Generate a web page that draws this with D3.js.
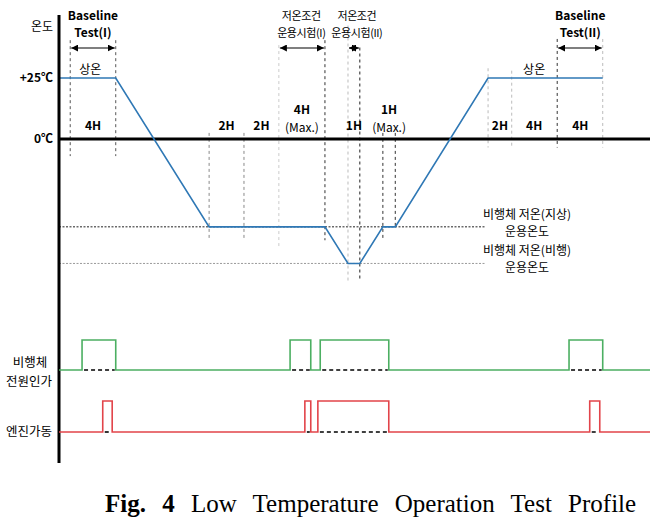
<!DOCTYPE html>
<html>
<head>
<meta charset="utf-8">
<script src="https://cdn.jsdelivr.net/npm/d3@7"></script>
<style>
  body { margin: 0; background: #fff; }
  svg { display: block; }
</style>
</head>
<body>
<script>
// temperature profile, time in schematic units (0..100), temp in degC
var profileT = [0, 9.6, 25.4, 45.0, 48.9, 50.9, 54.8, 56.9, 72.6, 92.0];
var profileC = [25, 25, -36, -36, -51, -51, -36, -36, 25, 25];

// power / engine on-off pulses [start, end]
var powerPulses = [[3.9, 9.6], [39.1, 42.6], [44.2, 55.8], [86.3, 92.0]];
var enginePulses = [[7.4, 9.0], [41.6, 42.6], [43.8, 55.8], [89.8, 91.5]];

// vertical guide lines: time, top temp, bottom temp, tone
var guideT = [1.9, 9.6, 25.4, 31.3, 37.2, 45.0, 48.9, 50.9, 54.8, 56.9, 72.6, 76.6, 84.3, 92.0];
var guideTop = [40.5, 40.5, 2.5, 2.5, 38.5, 40.5, 46.5, 37.5, 2.5, 2.5, 29, 28, 41, 41];
var guideBot = [-7, -7, -41.5, -41.5, -44.5, -41.5, -58, -58, -41.5, -36, -3.5, -3.5, -3.5, -3.5];
var guideTone = ["#555", "#555", "#888", "#888", "#ccc", "#333", "#bbb", "#222", "#333", "#333", "#bbb", "#bbb", "#333", "#bbb"];

// test windows with arrows
var windowFrom = [1.9, 37.2, 48.9, 84.3];
var windowTo = [9.6, 45.0, 50.9, 92.0];
var windowTitle = [["Baseline", "Test(I)"], ["저온조건", "운용시험(I)"], ["저온조건", "운용시험(II)"], ["Baseline", "Test(II)"]];
var windowTitleT = [5.75, 41.0, 50.4, 88.2];

// duration labels
var durT = [5.75, 28.35, 34.25, 41.1, 49.9, 55.85, 74.6, 80.4, 88.2];
var durText = [["4H"], ["2H"], ["2H"], ["4H", "(Max.)"], ["1H"], ["1H", "(Max.)"], ["2H"], ["4H"], ["4H"]];

var roomT = [5.3, 80.4];
var refTemps = [-36, -51];
var refText = [["비행체 저온(지상)", "운용온도"], ["비행체 저온(비행)", "운용온도"]];

var W = 670, H = 521;
var KF = "'Liberation Sans Narrow','Arial Narrow','Noto Sans CJK KR',sans-serif";

var svg = d3.select("body").append("svg")
  .attr("width", W)
  .attr("height", H)
  .style("font-family", KF);

var x = d3.scaleLinear().domain([0, 100]).range([59, 650]);
var y = d3.scaleLinear().domain([25, 0]).range([78, 139]);
var yPow = d3.scaleLinear().domain([0, 1]).range([370, 340]);
var yEng = d3.scaleLinear().domain([0, 1]).range([432, 401]);

// arrow head
var defs = svg.append("defs");
defs.append("marker")
  .attr("id", "head")
  .attr("viewBox", "0 0 10 10")
  .attr("refX", 10).attr("refY", 5)
  .attr("markerWidth", 7).attr("markerHeight", 7)
  .attr("markerUnits", "userSpaceOnUse")
  .attr("orient", "auto-start-reverse")
  .append("path").attr("d", "M0,0 L10,5 L0,10 z").attr("fill", "#000");

// reference temp dotted lines
svg.selectAll(".ref").data(refTemps).enter().append("line")
  .attr("x1", x(0)).attr("x2", 485)
  .attr("y1", function(d) { return y(d); })
  .attr("y2", function(d) { return y(d); })
  .attr("stroke", function(d, i) { return i === 0 ? "#222" : "#999"; })
  .attr("stroke-width", 1)
  .attr("stroke-dasharray", "2,1.5");

// vertical dashed guides
svg.selectAll(".guide").data(guideT).enter().append("line")
  .attr("x1", function(d) { return x(d); })
  .attr("x2", function(d) { return x(d); })
  .attr("y1", function(d, i) { return y(guideTop[i]); })
  .attr("y2", function(d, i) { return y(guideBot[i]); })
  .attr("stroke", function(d, i) { return guideTone[i]; })
  .attr("stroke-width", 1)
  .attr("stroke-dasharray", "3,3");

// zero line
svg.append("line")
  .attr("x1", x(0)).attr("x2", x(100))
  .attr("y1", y(0)).attr("y2", y(0))
  .attr("stroke", "#000").attr("stroke-width", 3);

// temperature profile
var pts = profileT.map(function(t, i) { return [t, profileC[i]]; });
svg.append("path")
  .datum(pts)
  .attr("d", d3.line().x(function(d) { return x(d[0]); }).y(function(d) { return y(d[1]); }))
  .attr("fill", "none")
  .attr("stroke", "#2f78b5")
  .attr("stroke-width", 1.6);

// y axis
svg.append("line")
  .attr("x1", x(0)).attr("x2", x(0))
  .attr("y1", 15).attr("y2", 463)
  .attr("stroke", "#000").attr("stroke-width", 3);

// axis labels
svg.append("text").attr("x", 53).attr("y", 31).attr("text-anchor", "end")
  .attr("font-size", 12).text("온도");
svg.append("text").attr("x", 53).attr("y", y(25) + 4).attr("text-anchor", "end")
  .attr("font-size", 12).attr("font-weight", "bold").text("+25℃");
svg.append("text").attr("x", 53).attr("y", y(0) + 4).attr("text-anchor", "end")
  .attr("font-size", 12).attr("font-weight", "bold").text("0℃");

// window arrows
svg.selectAll(".warrow").data(windowFrom).enter().append("line")
  .attr("x1", function(d) { return x(d) + 1; })
  .attr("x2", function(d, i) { return x(windowTo[i]) - 1; })
  .attr("y1", 48).attr("y2", 48)
  .attr("stroke", "#000").attr("stroke-width", 1.2)
  .attr("marker-start", "url(#head)")
  .attr("marker-end", "url(#head)");

// window titles
windowTitle.forEach(function(lines, i) {
  var bold = lines[0] === "Baseline";
  var t = svg.append("text")
    .attr("text-anchor", "middle")
    .attr("font-size", bold ? 12 : 11)
    .attr("font-weight", bold ? "bold" : "normal");
  lines.forEach(function(s, j) {
    t.append("tspan").attr("x", x(windowTitleT[i])).attr("y", 20 + j * 17)
      .attr("letter-spacing", bold ? 0 : -0.4).text(s);
  });
});

// room temp labels
svg.selectAll(".room").data(roomT).enter().append("text")
  .attr("x", function(d) { return x(d); })
  .attr("y", 74)
  .attr("text-anchor", "middle")
  .attr("font-size", 12)
  .text("상온");

// duration labels
durText.forEach(function(lines, i) {
  var t = svg.append("text")
    .attr("text-anchor", "middle")
    .attr("font-size", 12)
    .attr("font-weight", "bold");
  var y0 = lines.length === 1 ? 130 : 114;
  lines.forEach(function(s, j) {
    t.append("tspan").attr("x", x(durT[i])).attr("y", y0 + j * 18)
      .attr("font-weight", j === 1 ? "normal" : "bold").text(s);
  });
});

// reference temp labels
refText.forEach(function(lines, i) {
  var t = svg.append("text").attr("text-anchor", "middle").attr("font-size", 12);
  lines.forEach(function(s, j) {
    t.append("tspan").attr("x", 527).attr("y", y(refTemps[i]) - 8 + j * 17).text(s);
  });
});

// signals
function drawSignal(pulses, ys, color) {
  var p = [[0, 0]];
  pulses.forEach(function(d) {
    p.push([d[0], 0], [d[0], 1], [d[1], 1], [d[1], 0]);
  });
  p.push([100, 0]);
  svg.append("path")
    .datum(p)
    .attr("d", d3.line().x(function(d) { return x(d[0]); }).y(function(d) { return ys(d[1]); }))
    .attr("fill", "none")
    .attr("stroke", color)
    .attr("stroke-width", 1.6);
  // dashed "off" baseline under each pulse
  svg.selectAll(null).data(pulses).enter().append("line")
    .attr("x1", function(d) { return x(d[0]) + 2; })
    .attr("x2", function(d) { return x(d[1]) - 1; })
    .attr("y1", ys(0)).attr("y2", ys(0))
    .attr("stroke", "#000").attr("stroke-width", 1.6)
    .attr("stroke-dasharray", "4,3");
}
drawSignal(powerPulses, yPow, "#4caf62");
drawSignal(enginePulses, yEng, "#e2444a");

// signal labels
var pl = svg.append("text").attr("text-anchor", "middle").attr("font-size", 12.5);
pl.append("tspan").attr("x", 30).attr("y", 367).text("비행체");
pl.append("tspan").attr("x", 29).attr("y", 386).text("전원인가");
svg.append("text").attr("x", 29).attr("y", 436).attr("text-anchor", "middle")
  .attr("font-size", 12.5).text("엔진가동");

// caption
var cap = svg.append("text")
  .attr("x", 105).attr("y", 512)
  .attr("font-family", "'Liberation Serif','Times New Roman',serif")
  .attr("font-size", 25)
  .attr("word-spacing", 10);
cap.append("tspan").attr("font-weight", "bold").text("Fig. 4");
cap.append("tspan").text(" Low Temperature Operation Test Profile");
</script>
</body>
</html>
